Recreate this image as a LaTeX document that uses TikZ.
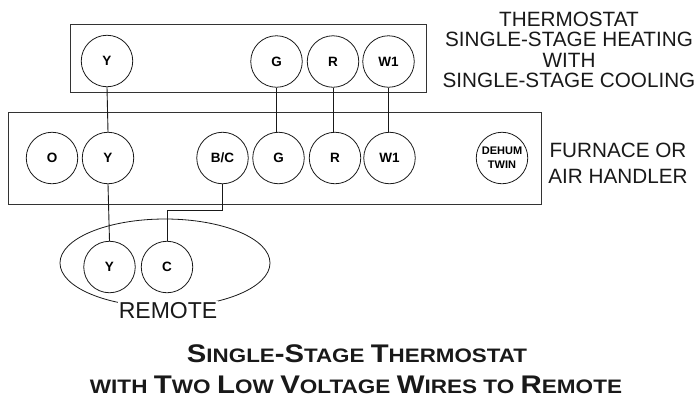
\documentclass[tikz,border=0pt]{standalone}
\usepackage{fontspec}
\usepackage{graphicx}
\setmainfont{Liberation Sans}
\usetikzlibrary{shapes.geometric}
\newcommand{\Bg}[1]{{\fontsize{25.5}{26}\selectfont #1}}
\newcommand{\Sm}[1]{{\fontsize{19.5}{26}\selectfont #1}}
\tikzset{
  x=1pt,y=-1pt,
  panel/.style={draw=black!80,line width=1pt,fill=none},
  term/.style={draw=black!90,circle,line width=0.8pt,minimum size=51.5pt,inner sep=0pt,font=\fontsize{13.5}{14}\selectfont\bfseries},
  wire/.style={draw=black!90,line width=0.9pt},
  captext/.style={inner sep=0pt,font=\fontsize{20.7}{22}\selectfont,text=black!90,anchor=base},
  headtext/.style={inner sep=0pt,font=\fontsize{20}{26}\selectfont\bfseries,text=black!90,anchor=base},
}
\begin{document}
\begin{tikzpicture}
\useasboundingbox (0,0) rectangle (698,400);
\node[panel,minimum width=356pt,minimum height=68pt,inner sep=0pt] (stat) at (248,58) {};
\node[panel,minimum width=532.5pt,minimum height=92pt,inner sep=0pt] (furn) at (274.75,158) {};
\node[term] (tY) at (107,61) {Y};
\node[term] (tG) at (276.5,61.5) {G};
\node[term] (tR) at (333,61.5) {R};
\node[term] (tW) at (388.5,61.5) {W1};
\node[term] (fO) at (52,158) {O};
\node[term] (fY) at (108,158) {Y};
\node[term] (fB) at (222.5,158) {B/C};
\node[term] (fG) at (278.5,158) {G};
\node[term] (fR) at (335,158) {R};
\node[term] (fW) at (389.5,158) {W1};
\node[term,font=\fontsize{11}{14}\selectfont\bfseries,align=center] (fD) at (502,158) {DEHUM\\TWIN};
\node[draw=black!90,ellipse,line width=0.8pt,minimum width=210pt,minimum height=88pt,inner sep=0pt] (remote) at (165,263) {};
\node[term] (rY) at (109.5,267) {Y};
\node[term] (rC) at (167,267) {C};
\coordinate (bend1) at (fB.south |- 0,210.5);
\coordinate (bend2) at (rC.north |- 0,210.5);
\draw[wire] (tY.south) -- (fY.north);
\draw[wire] (tG.south) -- (tG.south |- fG.north);
\draw[wire] (tR.south) -- (tR.south |- fR.north);
\draw[wire] (tW.south) -- (tW.south |- fW.north);
\draw[wire] (fY.south) -- (rY.north);
\draw[wire] (fB.south) -- (bend1) -- (bend2) -- (rC.north);
\node[captext,font=\fontsize{23}{24}\selectfont,fill=white,inner xsep=1pt,inner ysep=1pt] (remlabel) at (168,318) {REMOTE};
\node[captext] (c1) at (569,26) {THERMOSTAT};
\node[captext] (c2) at (569,46) {SINGLE-STAGE HEATING};
\node[captext] (c3) at (569,67) {WITH};
\node[captext] (c4) at (569,87) {SINGLE-STAGE COOLING};
\node[captext] (c5) at (618,157) {FURNACE OR};
\node[captext] (c6) at (618,183) {AIR HANDLER};
\node[headtext] (h1) at (357,362) {\resizebox{340pt}{\height}{\Bg{S}\Sm{INGLE}\Bg{-S}\Sm{TAGE} \Bg{T}\Sm{HERMOSTAT}}};
\node[headtext] (h2) at (356,393) {\resizebox{532pt}{\height}{\Sm{WITH} \Bg{T}\Sm{WO} \Bg{L}\Sm{OW} \Bg{V}\Sm{OLTAGE} \Bg{W}\Sm{IRES TO} \Bg{R}\Sm{EMOTE}}};
\end{tikzpicture}
\end{document}
